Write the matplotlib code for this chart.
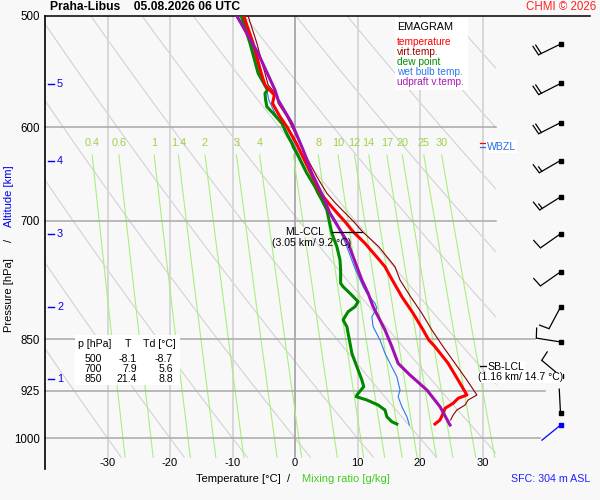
import numpy as np
import matplotlib
matplotlib.use("Agg")
import matplotlib.pyplot as plt
from matplotlib.patches import Rectangle
from matplotlib.ticker import NullLocator
from matplotlib.transforms import blended_transform_factory

plt.rcParams['font.family'] = ['Liberation Sans', 'DejaVu Sans']

# ---------------- data ----------------
title_text = "Praha-Libus    05.08.2026 06 UTC"
credit_text = "CHMI \u00a9 2026"
pressure_ticks = [500, 600, 700, 850, 925, 1000]
temp_ticks = [-30, -20, -10, 0, 10, 20, 30]
temp_tick_labels = ["-30", "-20", "-10", "0", "10", "20", "30"]
mixing_ratios = [0.4, 0.6, 1, 1.4, 2, 3, 4, 6, 8, 10, 12, 14, 17, 20, 25, 30]
mixing_labels = ["0.4", "0.6", "1", "1.4", "2", "3", "4", "6", "8", "10",
                 "12", "14", "17", "20", "25", "30"]
theta_lines_c = [-30, -20, -10, 0, 10, 20, 30, 40, 50, 60, 70, 80, 90]
isobar_p = [600, 700, 850, 925, 1000]
isobar_tmax = [32.2, 32.2, 38.4, 40.0, 39.2]

height_km = ["1", "2", "3", "4", "5"]
height_p = [906.9, 806.6, 715.0, 634.4, 559.3]

# temperature
t_p = [500, 522.9, 549.3, 560.0, 569.3, 577.1, 589.9, 599.7, 616.2, 633.4, 651.0,
       669.0, 680.1, 691.4, 700.9, 712.5, 726.2, 746.4, 754.7, 769.0, 792.8, 814.7,
       837.3, 851.1, 860.6, 884.4, 909.0, 931.6, 936.7, 944.4, 952.2, 960.1, 970.7, 977.1]
t_val = [-8.2, -6.7, -5.4, -4.8, -3.3, -3.6, -2.4, -1.3, 0.2, 1.5, 2.8,
         4.1, 5.4, 6.8, 8.0, 9.3, 11.2, 13.5, 14.4, 15.4, 17.1, 18.9,
         20.5, 21.4, 22.4, 24.5, 26.1, 27.5, 26.1, 25.3, 24.0, 23.7, 23.2, 22.4]
# virtual temperature
tv_p = [500, 522.9, 537.5, 549.3, 560.0, 569.3, 577.1, 589.9, 599.7, 616.2, 633.4,
        651.0, 669.0, 680.1, 700.9, 712.5, 730.3, 754.7, 771.3, 792.8, 814.7, 837.3,
        860.6, 884.4, 909.0, 931.6, 939.3, 947.1, 954.9, 962.8, 970.7]
tv_val = [-7.5, -6.1, -5.4, -4.8, -4.3, -2.9, -2.7, -1.3, -0.5, 0.8, 2.1,
          3.5, 5.1, 6.5, 9.4, 10.8, 13.4, 16.0, 16.8, 18.5, 20.3, 21.9,
          23.7, 25.6, 27.5, 29.1, 27.7, 27.2, 25.9, 25.3, 24.9]
# dew point
td_p = [500, 522.9, 549.3, 564.6, 567.7, 573.9, 580.3, 586.6, 596.4, 609.6, 616.2,
        619.7, 626.5, 636.8, 647.4, 661.8, 669.0, 676.4, 687.6, 700.9, 714.4, 730.3,
        746.4, 758.8, 775.5, 779.9, 788.4, 799.3, 805.9, 812.5, 819.2, 823.7, 832.8,
        851.1, 870.0, 889.4, 909.0, 919.0, 931.6, 934.2, 939.3, 947.1, 954.9, 965.5,
        973.5, 977.1]
td_val = [-8.6, -7.2, -5.9, -4.4, -4.8, -4.7, -4.5, -3.5, -2.1, -1.1, -0.5,
          -0.3, 0.3, 1.1, 1.9, 3.2, 3.7, 4.3, 5.1, 5.5, 5.9, 6.7,
          7.2, 7.3, 7.3, 7.7, 8.8, 10.1, 9.6, 8.5, 8.0, 7.7, 8.3,
          8.7, 9.1, 9.9, 10.7, 11.0, 9.9, 9.8, 11.5, 13.3, 14.4, 14.7,
          15.5, 16.3]
# wet bulb temperature
tw_p = [500, 522.9, 549.3, 564.6, 573.9, 586.6, 599.7, 616.2, 633.4, 651.0, 669.0,
        687.6, 700.9, 730.3, 755.0, 779.9, 788.4, 801.5, 808.0, 819.2, 832.8, 851.1,
        870.0, 884.4, 904.1, 924.0, 934.2, 949.7, 965.5, 978.7]
tw_val = [-8.4, -7.0, -5.6, -4.5, -4.2, -3.2, -1.8, -0.3, 1.0, 2.3, 3.9,
          5.4, 6.6, 8.3, 9.5, 10.9, 11.5, 12.8, 13.1, 12.3, 12.5, 13.6,
          14.4, 15.2, 16.3, 16.8, 16.5, 17.1, 17.9, 18.3]
# updraft virtual temperature
pv_p = [500, 531.6, 564.6, 573.9, 596.4, 623.0, 647.4, 672.7, 691.4, 706.7, 726.2,
        754.7, 771.3, 788.4, 805.9, 837.3, 860.6, 884.4, 901.6, 924.0, 949.7, 978.7]
pv_val = [-9.3, -5.9, -3.2, -2.7, -0.5, 1.3, 2.7, 4.5, 5.6, 6.9, 8.5,
          9.9, 10.7, 11.7, 12.5, 14.4, 15.5, 16.5, 18.4, 21.1, 23.2, 24.8]

table_p = ["500", "700", "850"]
table_t = ["-8.1", "7.9", "21.4"]
table_td = ["-8.7", "5.6", "8.8"]

wind_p = [523.6, 558.6, 595.7, 633.9, 673.0, 715.0, 761.1, 806.4, 853.9, 903.1, 959.5, 978.9]
wind_dir = [244, 243, 243, 240, 238, 235, 235, 208, 279, 310, 357, 231]
wind_spd = [20, 20, 20, 15, 15, 10, 10, 10, 10, 10, 3, 3]
wind_is_sfc = [False] * 11 + [True]

ml_ccl_p = 712.5
ml_ccl_t = [5.9, 10.7]
sb_lcl_p = 888.0
freezing_p = 616.0
wbzl_p = 619.7
sfc_text = "SFC: 304 m ASL"

# ---------------- figure ----------------
BG = '#f8f8f8'
fig = plt.figure(figsize=(6, 5), dpi=100, facecolor=BG)
ax = fig.add_axes([45 / 600, 31 / 500, 545 / 600, 453 / 500])
ax.set_facecolor(BG)
ax.set_yscale('log')
ax.set_xlim(-40, -40 + 545 / 6.25)
ax.set_ylim(1052, 500)
ax.yaxis.set_minor_locator(NullLocator())
ax.set_yticks(pressure_ticks)
ax.set_yticklabels([str(p) for p in pressure_ticks])
ax.tick_params(axis='y', length=0, pad=3.5, labelsize=8.3)
ax.set_xticks([])
for sp in ['top', 'right', 'bottom']:
    ax.spines[sp].set_visible(False)
ax.spines['left'].set_linewidth(1.2)

ov = fig.add_axes([0, 0, 1, 1], zorder=5)
ov.set_xlim(0, 600)
ov.set_ylim(500, 0)
ov.axis('off')

px_p = blended_transform_factory(ov.transData, ax.transData)   # x pixels, y pressure
t_px = blended_transform_factory(ax.transData, ov.transData)   # x temperature, y pixels

P_BOT = 1032
# dry adiabats
pp = np.geomspace(500, P_BOT, 400)
for th in theta_lines_c:
    T = (th + 273.15) * (pp / 1000.0) ** 0.2857 - 273.15
    T = np.where(T <= 32.2, T, np.nan)
    ax.plot(T, pp, color='#d0d0d0', lw=0.75, zorder=1)

# isotherms
for t in temp_ticks:
    if t == 0:
        ax.plot([t, t], [500, P_BOT], color='#9a9a9a', lw=1.1, zorder=1.2)
    else:
        ax.plot([t, t], [500, P_BOT], color='#d8d8d8', lw=1.4, zorder=1.1)

# mixing ratio lines
pm = np.geomspace(628, P_BOT, 60)
for w, lab in zip(mixing_ratios, mixing_labels):
    e = w * pm / (622.0 + w)
    a = np.log(e / 6.112)
    td = 243.5 * a / (17.67 - a)
    ax.plot(td, pm, color='#a8f07e', lw=0.8, zorder=1.5)
    ax.text(td[0], 616, lab, color='#a0d048', fontsize=7.8, ha='center', va='center', zorder=1.6)

# isobars
for p, tmax in zip(isobar_p, isobar_tmax):
    ax.plot([-40, tmax], [p, p], color='#a8a8a8', lw=1.1, zorder=2, clip_on=False)
ax.plot([-40, -40 + 545 / 6.25], [500, 500], color='black', lw=1.1, zorder=2, clip_on=False)

# profiles
ax.plot(tw_val, tw_p, color='#2a78f0', lw=0.8, zorder=3)
ax.plot(tv_val, tv_p, color='#8b0000', lw=0.8, zorder=4)
ax.plot(td_val, td_p, color='#008800', lw=2.2, zorder=5)
ax.plot(t_val, t_p, color='#ff0000', lw=2.2, zorder=6)
ax.plot(pv_val, pv_p, color='#a010b0', lw=2.2, zorder=7)

# ML-CCL
ax.plot(ml_ccl_t, [ml_ccl_p, ml_ccl_p], color='black', lw=0.9, zorder=8)
ov.text(305, 232, "ML-CCL", fontsize=7.6, ha='center', va='center',
        bbox=dict(fc=BG, ec='none', pad=0.3))
ov.text(312, 242.5, "(3.05 km/ 9.2 \u00b0C)", fontsize=7.6, ha='center', va='center')

# SB-LCL
ax.plot([480, 486], [sb_lcl_p, sb_lcl_p], color='black', lw=0.9, transform=px_p, clip_on=False)
ov.text(487.5, 366.5, "SB-LCL", fontsize=7.6, ha='left', va='center',
        bbox=dict(fc='white', ec='none', pad=0.5))
ov.text(477.5, 377.5, "(1.16 km/ 14.7 \u00b0C)", fontsize=7.6, ha='left', va='center',
        bbox=dict(fc='white', ec='none', pad=0.5))

# WBZL
ax.plot([480, 486], [freezing_p, freezing_p], color='red', lw=0.9, transform=px_p, clip_on=False)
ax.plot([480, 486], [wbzl_p, wbzl_p], color='#2a6ee8', lw=0.9, transform=px_p, clip_on=False)
ov.text(487, 146.5, "WBZL", fontsize=7.6, color='#2a6ee8', ha='left', va='center',
        bbox=dict(fc='white', ec='none', pad=0.8))

# altitude ticks
for lab, p in zip(height_km, height_p):
    ax.plot([48, 53.5], [p, p], color='#0000ee', lw=1.0, transform=px_p, clip_on=False)
    ax.text(57, p, lab, color='#0000ee', fontsize=7.8, ha='left', va='center', transform=px_p)

# temperature tick labels
for t, lab in zip(temp_ticks, temp_tick_labels):
    ax.text(t, 463, lab, fontsize=8, ha='center', va='center', transform=t_px)

# legend box
ov.add_patch(Rectangle((395, 18), 73, 72, fc='white', ec='none'))
ov.text(397, 26.5, "EMAGRAM", fontsize=7.8, ha='left', va='center')
leg = [("temperature", '#ff0000'), ("virt.temp.", '#a00000'), ("dew point", '#008c00'),
       ("wet bulb temp.", '#2a78f0'), ("udpraft v.temp.", '#a818b8')]
for i, (txt, c) in enumerate(leg):
    ov.text(397, 42.3 + i * 9.85, txt, fontsize=7.3, color=c, ha='left', va='center')

# table
ov.add_patch(Rectangle((75, 335), 105, 50, fc='white', ec='none'))
ov.text(78, 344, "p [hPa]", fontsize=7.6, ha='left', va='center')
ov.text(127.7, 344, "T", fontsize=7.6, ha='center', va='center')
ov.text(143, 344, "Td [\u00b0C]", fontsize=7.6, ha='left', va='center')
for i, (a1, a2, a3) in enumerate(zip(table_p, table_t, table_td)):
    yy = 358.7 + i * 10.0
    ov.text(102, yy, a1, fontsize=7.6, ha='right', va='center')
    ov.text(137, yy, a2, fontsize=7.6, ha='right', va='center')
    ov.text(173, yy, a3, fontsize=7.6, ha='right', va='center')

# wind barbs
def draw_barb(x0, y0, d, spd, color):
    r = np.radians(d)
    s = np.array([np.sin(r), -np.cos(r)])
    n = np.array([-s[1], s[0]])
    L = 24.5
    tip = np.array([x0, y0]) + L * s
    ov.plot([x0, tip[0]], [y0, tip[1]], color=color, lw=0.9, solid_capstyle='butt')
    ov.plot([x0], [y0], marker='s', ms=2.6, color=color, mec=color)
    tilt = np.radians(7)
    bdir = np.cos(tilt) * n + np.sin(tilt) * s
    rem = spd
    pos = L
    while rem >= 10:
        base = np.array([x0, y0]) + pos * s
        end = base + 10.0 * bdir
        ov.plot([base[0], end[0]], [base[1], end[1]], color=color, lw=0.9)
        pos -= 3.0
        rem -= 10
    if rem >= 5:
        base = np.array([x0, y0]) + pos * s
        end = base + 5.5 * bdir
        ov.plot([base[0], end[0]], [base[1], end[1]], color=color, lw=0.9)

for p, d, sp_, sfc in zip(wind_p, wind_dir, wind_spd, wind_is_sfc):
    y_disp = ax.transData.transform((0, p))[1]
    y0 = 500 - y_disp
    draw_barb(560.5, y0, d, sp_, '#0000ff' if sfc else 'black')

# titles and labels
ov.text(50, 7.5, title_text, fontsize=8.7, weight='bold', ha='left', va='center')
ov.text(596, 7.5, credit_text, fontsize=8.3, color='#ff2020', ha='right', va='center')
ov.text(281, 479.5, "Temperature [\u00b0C]", fontsize=8, ha='right', va='center')
ov.text(288.5, 479.5, "/", fontsize=8, ha='center', va='center')
ov.text(302, 479.5, "Mixing ratio [g/kg]", fontsize=8, color='#44cc22', ha='left', va='center')
ov.text(590, 479.5, sfc_text, fontsize=7.7, color='#2020ff', ha='right', va='center')
ov.text(9, 295, "Pressure [hPa]", fontsize=8, rotation=90, ha='center', va='center')
ov.text(9, 240, "/", fontsize=8, rotation=90, ha='center', va='center')
ov.text(9, 196, "Altitude [km]", fontsize=8, rotation=90, color='#0000ee', ha='center', va='center')

fig.savefig('out.png', dpi=100, facecolor=BG)
